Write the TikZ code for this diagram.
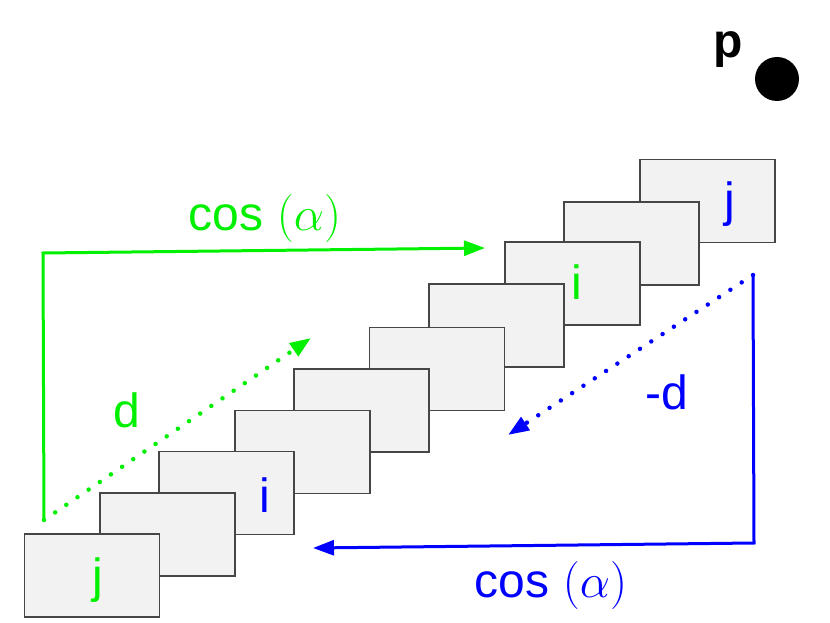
\RequirePackage{fix-cm}
\documentclass[tikz,border=0pt]{standalone}
\usepackage[no-math]{fontspec}
\setmainfont{Liberation Sans}
\usetikzlibrary{arrows.meta}
\definecolor{lime}{RGB}{0,240,0}
\definecolor{azure}{RGB}{0,0,255}
\definecolor{frame}{RGB}{70,70,70}
\definecolor{paper}{RGB}{242,242,242}

\begin{document}
\begin{tikzpicture}[x=1pt,y=-1pt,frame/.style={draw=frame,line width=1.3pt,fill=paper,minimum width=135pt,minimum height=83pt,inner sep=0pt},lbl/.style={inner sep=0pt,font=\fontsize{48}{56}\selectfont},route/.style={-{Triangle[length=21pt,width=15pt]},line width=3pt},trail/.style={route,line width=4.5pt,line cap=round,dash pattern=on 0pt off 13.5pt}]
\useasboundingbox (0,0) rectangle (830,623);
% stack of frames, back to front
\node[frame] (b10) at (707.5,201) {};
\node[frame] (b9) at (631.5,243.5) {};
\node[frame] (b8) at (572.5,283.5) {};
\node[frame] (b7) at (496.5,325.5) {};
\node[frame] (b6) at (437,369) {};
\node[frame] (b5) at (361.5,410.5) {};
\node[frame] (b4) at (302.5,452) {};
\node[frame] (b3) at (226.5,493) {};
\node[frame] (b2) at (167.5,534.5) {};
\node[frame] (b1) at (92,575.5) {};
\node[lbl,text=lime] (jlow) at (98,580) {j};
\node[lbl,text=azure] (ilow) at (265,495.5) {i};
\node[lbl,text=lime] (ihigh) at (577,282) {i};
\node[lbl,text=azure] (jhigh) at (730,204.5) {j};
% point p
\node[lbl,font=\fontsize{48}{56}\selectfont\bfseries] (plbl) at (728,50) {p};
\node[circle,fill=black,inner sep=0pt,minimum size=44pt] (pdot) at (777,79) {};
% forward paths
\coordinate (gstart) at (44,520); \coordinate (gcorner) at (43,253); \coordinate (gend) at (485,248); \coordinate (gtip) at (311,338);
\draw[route,draw=lime] (gstart) -- (gcorner) -- (gend); \draw[trail,draw=lime] (gstart) -- (gtip);
\node[lbl,text=lime] (gcos) at (265,219) {cos $(\alpha)$};
\node[lbl,text=lime] (gd) at (127,410) {d};
% backward paths
\coordinate (bstart) at (753,275); \coordinate (bcorner) at (754,543); \coordinate (bend) at (313,548); \coordinate (btip) at (508,435);
\draw[route,draw=azure] (bstart) -- (bcorner) -- (bend); \draw[trail,draw=azure] (bstart) -- (btip);
\node[lbl,text=azure] (bcos) at (551,585) {cos $(\alpha)$};
\node[lbl,text=azure] (bd) at (667,392) {-d};
\end{tikzpicture}
\end{document}
